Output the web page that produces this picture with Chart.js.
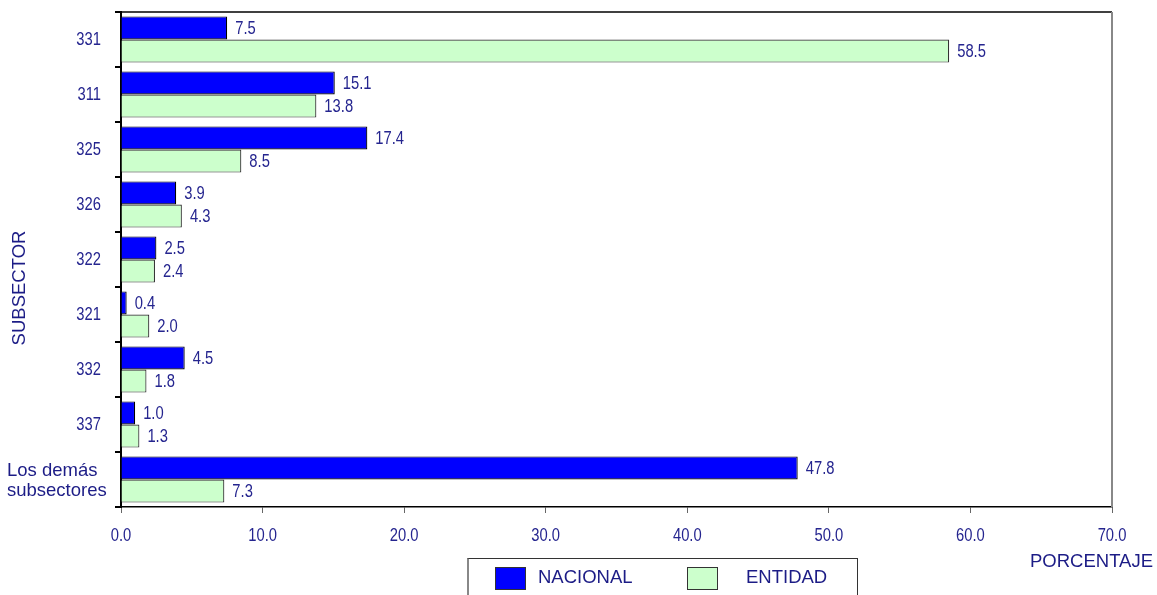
<!DOCTYPE html>
<html lang="es">
<head>
<meta charset="UTF-8">
<title>Subsector</title>
<script src="https://cdn.jsdelivr.net/npm/chart.js"></script>
<style>
    body { margin: 0; background: #fff; }
    #wrap { position: relative; width: 1157px; height: 595px; overflow: hidden; }
    .legend {
        position: absolute; left: 467px; top: 558px; width: 391px; height: 50px;
        border: 1px solid #333; border-left: 2px solid #888; box-sizing: border-box;
        font-family: "Liberation Sans", Arial, sans-serif; font-size: 18.5px; color: #1c1c86;
    }
    .legend .sw { position: absolute; top: 8px; width: 31px; height: 23px; border: 1px solid #333; box-sizing: border-box; }
    .legend .lb { position: absolute; top: 8px; line-height: 20px; }
</style>
</head>
<body>
<div id="wrap">
    <canvas id="chart" width="1157" height="595"></canvas>
    <div class="legend">
        <div class="sw" style="left:26px;background:#0000ff"></div>
        <div class="lb" style="left:69px">NACIONAL</div>
        <div class="sw" style="left:218px;background:#ccffcc"></div>
        <div class="lb" style="left:277px">ENTIDAD</div>
    </div>
</div>
<script>
// categories and values
const subsectores = ['331', '311', '325', '326', '322', '321', '332', '337', ['Los demás', 'subsectores']];
const nacional = [7.5, 15.1, 17.4, 3.9, 2.5, 0.4, 4.5, 1.0, 47.8];
const entidad = [58.5, 13.8, 8.5, 4.3, 2.4, 2.0, 1.8, 1.3, 7.3];
const xMax = 70;
const xStep = 10;

const navy = '#25258f';
const sans = '"Liberation Sans", Arial, sans-serif';
const squeeze = 0.82; // the original numbers are set in a narrow face

// draw text squeezed horizontally, anchored at x with the given alignment
function narrowText(ctx, text, x, y, align) {
    ctx.save();
    ctx.translate(x, y);
    ctx.scale(squeeze, 1);
    ctx.textAlign = align;
    ctx.fillText(text, 0, 0);
    ctx.restore();
}

const extras = {
    id: 'extras',
    afterDatasetsDraw(chart) {
        const ctx = chart.ctx;
        ctx.save();
        ctx.fillStyle = navy;
        ctx.font = '18px ' + sans;
        ctx.textBaseline = 'middle';
        chart.data.datasets.forEach((ds, i) => {
            chart.getDatasetMeta(i).data.forEach((bar, j) => {
                narrowText(ctx, ds.data[j].toFixed(1), bar.x + 8, bar.y + 1, 'left');
            });
        });
        ctx.restore();
    },
    afterDraw(chart) {
        const { ctx, chartArea: a, scales } = chart;
        ctx.save();
        ctx.strokeStyle = '#000';
        ctx.lineWidth = 1.5;
        ctx.beginPath();
        ctx.moveTo(a.left, a.top);
        ctx.lineTo(a.right, a.top);
        ctx.stroke();
        ctx.strokeStyle = '#888';
        ctx.lineWidth = 2;
        ctx.beginPath();
        ctx.moveTo(a.right, a.top);
        ctx.lineTo(a.right, a.bottom);
        ctx.stroke();

        // tick labels
        ctx.fillStyle = navy;
        ctx.textBaseline = 'middle';
        ctx.font = '18px ' + sans;
        scales.x.ticks.forEach((t, i) => {
            narrowText(ctx, t.value.toFixed(1), scales.x.getPixelForTick(i), a.bottom + 29, 'center');
        });
        subsectores.forEach((lab, i) => {
            const y = scales.y.getPixelForValue(i);
            if (Array.isArray(lab)) {
                ctx.fillStyle = '#1c1c86';
                ctx.font = '18.5px ' + sans;
                ctx.textAlign = 'left';
                lab.forEach((line, k) => ctx.fillText(line, 7, y - 9 + k * 20));
            } else {
                ctx.fillStyle = navy;
                ctx.font = '18px ' + sans;
                narrowText(ctx, lab, 101, y + 1, 'right');
            }
        });

        // axis titles
        ctx.fillStyle = '#1c1c86';
        ctx.font = '18.5px ' + sans;
        ctx.textAlign = 'right';
        ctx.fillText('PORCENTAJE', 1153, 562);
        ctx.translate(20, 288);
        ctx.rotate(-Math.PI / 2);
        ctx.textAlign = 'center';
        ctx.fillText('SUBSECTOR', 0, 0);
        ctx.restore();
    }
};

new Chart(document.getElementById('chart'), {
    type: 'bar',
    data: {
        labels: subsectores,
        datasets: [{
            label: 'NACIONAL',
            data: nacional,
            backgroundColor: '#0000ff',
            borderColor: '#000',
            borderWidth: 1.2
        }, {
            label: 'ENTIDAD',
            data: entidad,
            backgroundColor: '#ccffcc',
            borderColor: '#333',
            borderWidth: 1.2
        }]
    },
    options: {
        indexAxis: 'y',
        responsive: false,
        animation: false,
        layout: { padding: { top: 12, right: 45, left: 0, bottom: 0 } },
        datasets: { bar: { categoryPercentage: 0.84, barPercentage: 1 } },
        plugins: {
            legend: { display: false },
            tooltip: { enabled: false }
        },
        scales: {
            x: {
                min: 0,
                max: xMax,
                ticks: { stepSize: xStep, color: 'transparent' },
                grid: { drawOnChartArea: false, tickLength: 6, color: '#666' },
                border: { color: '#000', width: 1.5 },
                afterFit(scale) {
                    scale.height = 88;
                    scale.paddingLeft = 0;
                    scale.paddingRight = 0;
                }
            },
            y: {
                ticks: { color: 'transparent' },
                grid: { offset: true, drawOnChartArea: false, tickLength: 6, color: '#000', lineWidth: 2 },
                border: { color: '#000', width: 2 },
                afterFit(scale) {
                    scale.width = 121;
                    scale.paddingTop = 0;
                    scale.paddingBottom = 0;
                }
            }
        }
    },
    plugins: [extras]
});
</script>
</body>
</html>
